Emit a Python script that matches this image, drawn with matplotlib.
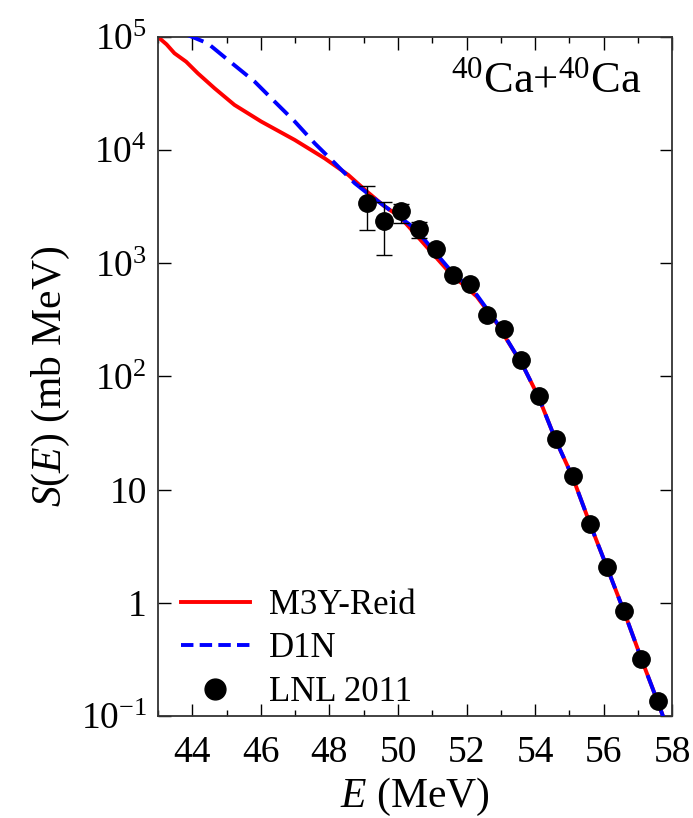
import matplotlib
matplotlib.use('Agg')
import matplotlib.pyplot as plt
from matplotlib.lines import Line2D
from matplotlib.ticker import FixedLocator, MultipleLocator, NullLocator

plt.rcParams['font.family'] = ['Liberation Serif', 'DejaVu Serif']
plt.rcParams['mathtext.fontset'] = 'custom'
plt.rcParams['mathtext.rm'] = 'Liberation Serif'
plt.rcParams['mathtext.it'] = 'Liberation Serif:italic'

# M3Y-Reid curve
m3y_e = [43.0, 43.25, 43.48, 43.82, 44.16, 44.65, 45.23, 46.01, 46.99, 47.86,
         48.55, 49.04, 49.6, 50.05, 50.74, 51.52, 52.3, 52.88, 53.66, 54.1,
         54.6, 55.1, 55.6, 56.1, 56.6, 57.1, 57.6, 57.9]
m3y_s = [100000, 86000, 71800, 60500, 47800, 35200, 25100, 17900, 12300, 8470,
         6040, 4450, 3200, 2590, 1510, 819, 508, 296, 122, 66,
         27.5, 12.8, 5.0, 2.05, 0.83, 0.32, 0.128, 0.072]

# D1N curve
d1n_e = [43.8, 44.45, 45.04, 45.82, 46.4, 46.99, 47.57, 48.16, 48.74, 49.23,
         49.8, 50.49, 51.5, 52.3, 52.88, 53.66, 54.1, 54.6, 55.1, 55.6,
         56.1, 56.6, 57.1, 57.6, 57.9]
d1n_s = [106000, 87900, 62700, 40300, 26900, 17900, 11500, 7660, 5100, 3890,
         2900, 2040, 890, 525, 300, 122, 66, 27.5, 12.8, 5.0,
         2.05, 0.83, 0.32, 0.128, 0.072]

# LNL 2011 data
exp_e = [49.1, 49.6, 50.1, 50.6, 51.1, 51.6, 52.1, 52.6, 53.1, 53.6,
         54.1, 54.6, 55.1, 55.6, 56.1, 56.6, 57.1, 57.6]
exp_s = [3400, 2370, 2870, 2000, 1330, 790, 660, 350, 263, 140,
         67, 28, 13.1, 4.95, 2.07, 0.84, 0.32, 0.136]
err_lo = [1430, 1184, 610, 330, 0, 0, 0, 0, 0, 0,
          0, 0, 0, 0, 0, 0, 0, 0]
err_hi = [1460, 1140, 480, 320, 0, 0, 0, 0, 0, 0,
          0, 0, 0, 0, 0, 0, 0, 0]

ytick_vals = [0.1, 1, 10, 100, 1000, 10000, 100000]
ytick_labels = [r'$10^{-1}$', '1', '10', r'$10^{2}$', r'$10^{3}$', r'$10^{4}$', r'$10^{5}$']

fig = plt.figure(figsize=(6.93, 8.18), dpi=100)
ax = fig.add_axes([0.228, 0.1247, 0.742, 0.8301])

ax.plot(m3y_e, m3y_s, color='red', lw=2.8, zorder=2)
ax.plot(d1n_e, d1n_s, color='blue', lw=2.8, ls=(0, (5, 2.2)), zorder=3)
ax.errorbar(exp_e, exp_s, yerr=[err_lo, err_hi], fmt='o', color='black',
            ms=12.5, elinewidth=1.0, capsize=6, capthick=1.0, zorder=4)

ax.set_yscale('log')
ax.set_xlim(43, 58)
ax.set_ylim(0.1, 1e5)

ax.xaxis.set_major_locator(MultipleLocator(2))
ax.xaxis.set_minor_locator(MultipleLocator(1))
ax.yaxis.set_major_locator(FixedLocator(ytick_vals))
ax.yaxis.set_minor_locator(NullLocator())
ax.set_yticklabels(ytick_labels)
ax.set_xticks([44, 46, 48, 50, 52, 54, 56, 58])

ax.tick_params(which='both', direction='in', top=True, right=True, labelsize=27, colors='black')
ax.tick_params(which='major', length=9, width=1.0, pad=14)
ax.tick_params(which='minor', length=4, width=1.0)
ax.tick_params(axis='y', pad=8)
for sp in ax.spines.values():
    sp.set_linewidth(1.3)
    sp.set_color('#333333')

ax.set_xlabel(r'$E$ (MeV)', fontsize=30, labelpad=4)
ax.set_ylabel(r'$S$($E$) (mb MeV)', fontsize=30, labelpad=6)

ax.text(0.57, 0.918, r'$^{40}$Ca+$^{40}$Ca', transform=ax.transAxes, fontsize=32)

handles = [
    Line2D([], [], color='red', lw=2.8),
    Line2D([], [], color='blue', lw=2.8, ls=(0, (3.2, 1.6))),
    Line2D([], [], color='black', marker='o', ms=15, ls='none'),
]
labels = ['M3Y-Reid', 'D1N', 'LNL 2011']
ax.legend(handles, labels, loc='lower left', fontsize=25, frameon=False,
          handlelength=2.0, handletextpad=0.55, labelspacing=0.3,
          borderaxespad=0.1, bbox_to_anchor=(0.01, -0.015))

fig.savefig('out.png', dpi=100)
